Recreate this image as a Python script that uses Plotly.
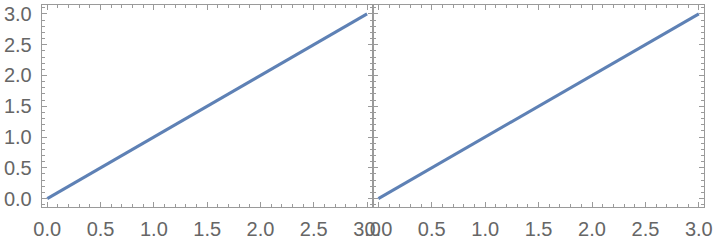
import plotly.graph_objects as go

# data
x_left = [0.0, 1.0, 2.0, 3.0]
y_left = [0.0, 1.0, 2.0, 3.0]
x_right = [0.0, 1.0, 2.0, 3.0]
y_right = [0.0, 1.0, 2.0, 3.0]
tick_vals = [0.0, 0.5, 1.0, 1.5, 2.0, 2.5, 3.0]
tick_text = ["0.0", "0.5", "1.0", "1.5", "2.0", "2.5", "3.0"]

W, H = 720, 240
line_color = "#5E81B5"
frame_color = "#9a9a9a"
label_color = "#666666"
font = dict(family="Liberation Sans, Arial, sans-serif", size=20, color=label_color)

fig = go.Figure()
fig.add_trace(go.Scatter(x=x_left, y=y_left, mode="lines",
                         line=dict(color=line_color, width=3), xaxis="x", yaxis="y",
                         showlegend=False, hoverinfo="skip"))
fig.add_trace(go.Scatter(x=x_right, y=y_right, mode="lines",
                         line=dict(color=line_color, width=3), xaxis="x2", yaxis="y2",
                         showlegend=False, hoverinfo="skip"))

y_dom = [(H - 210.7) / H, (H - 3) / H]
xl_dom = [34.5 / W, 373 / W]
xr_dom = [373 / W, 712 / W]

common = dict(
    showgrid=False, zeroline=False, showline=True, linecolor=frame_color, linewidth=1,
    mirror="ticks", ticks="inside", ticklen=5, tickwidth=1, tickcolor=frame_color,
    tickmode="array", tickvals=tick_vals, ticktext=tick_text, tickfont=font,
    minor=dict(ticks="inside", ticklen=3, tickcolor=frame_color, dtick=0.1, tick0=0, showgrid=False),
)

fig.update_layout(
    width=W, height=H, margin=dict(l=0, r=0, t=0, b=0),
    paper_bgcolor="white", plot_bgcolor="white",
    xaxis=dict(domain=xl_dom, range=[-0.052, 3.053], anchor="y", ticklabelstandoff=4, **common),
    yaxis=dict(domain=y_dom, range=[-0.143, 3.146], anchor="x", ticklabelstandoff=5, **common),
    xaxis2=dict(domain=xr_dom, range=[-0.053, 3.05], anchor="y2", ticklabelstandoff=4, **common),
    yaxis2=dict(domain=y_dom, range=[-0.143, 3.146], anchor="x2", showticklabels=False, **common),
)

fig.write_html("out.html")
